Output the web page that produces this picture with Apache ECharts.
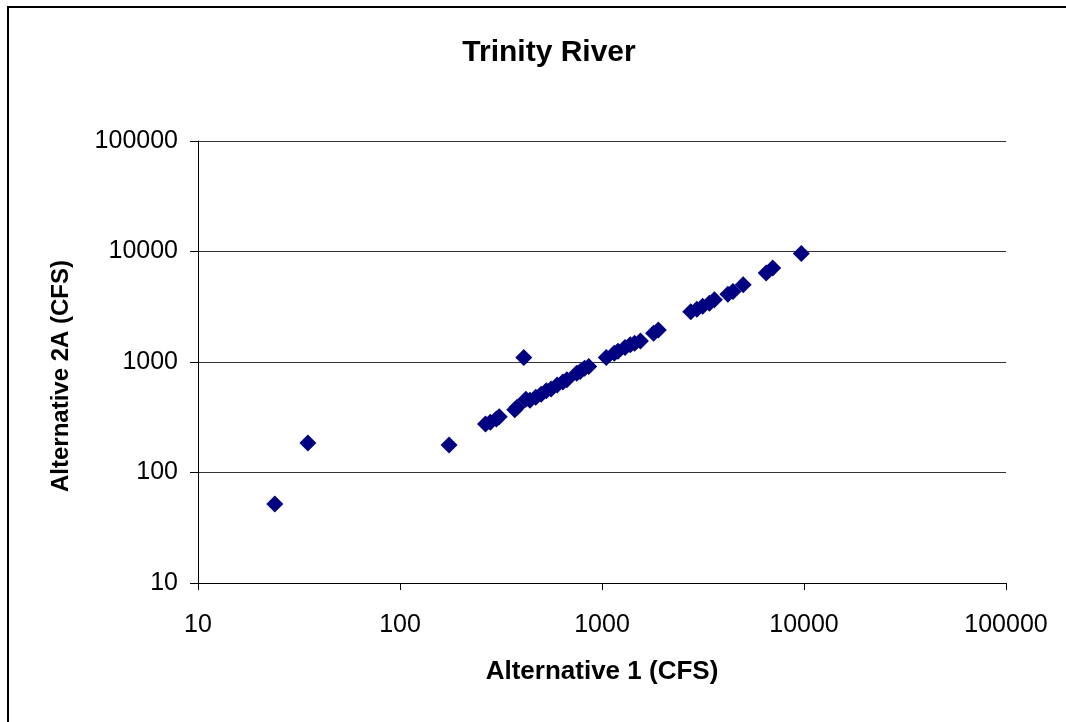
<!DOCTYPE html>
<html>
<head>
<meta charset="utf-8">
<script src="https://cdn.jsdelivr.net/npm/echarts@6/dist/echarts.min.js"></script>
<style>
html,body{margin:0;padding:0;background:#fff;}
#chart{width:1066px;height:722px;}
</style>
</head>
<body>
<div id="chart"></div>
<script>
const chartTitle = "Trinity River";
const xAxisName = "Alternative 1 (CFS)";
const yAxisName = "Alternative 2A (CFS)";
// Alternative 1 (CFS)
const alt1 = [24, 35, 175, 410,
  265, 280, 300, 310,
  370, 380, 420, 440, 470, 500, 530, 560, 600, 640, 670,
  750, 780, 820, 860,
  1050, 1150, 1200, 1300, 1380, 1450, 1550,
  1800, 1900,
  2750, 2950, 3150, 3400, 3600, 4200, 4450, 5000, 6500, 7000, 9700];
// Alternative 2A (CFS)
const alt2A = [52, 185, 177, 1100,
  275, 285, 305, 320,
  370, 390, 460, 450, 480, 510, 550, 570, 620, 660, 690,
  790, 820, 880, 910,
  1100, 1200, 1250, 1350, 1430, 1480, 1550,
  1820, 1950,
  2850, 3000, 3200, 3400, 3650, 4100, 4350, 5000, 6400, 7100, 9600];

const points = alt1.map((x, i) => [x, alt2A[i]]);
const FONT = "Liberation Sans, Arial, sans-serif";
const plainNum = v => String(Math.round(v));

const chart = echarts.init(document.getElementById('chart'));
chart.setOption({
  backgroundColor: '#fff',
  animation: false,
  title: {
    text: chartTitle,
    left: 544,
    top: 33,
    textAlign: 'center',
    textStyle: {fontFamily: FONT, fontSize: 30, fontWeight: 'bold', color: '#000'}
  },
  graphic: [{
    type: 'rect',
    shape: {x: 8, y: 7, width: 1200, height: 900},
    style: {fill: 'none', stroke: '#000', lineWidth: 2},
    silent: true
  }, {
    type: 'text',
    x: 61, y: 376,
    rotation: Math.PI / 2,
    style: {
      text: yAxisName, fontFamily: FONT, fontSize: 24, fontWeight: 'bold',
      fill: '#000', align: 'center', verticalAlign: 'middle'
    },
    silent: true
  }],
  grid: {left: 198, top: 141, right: 60, bottom: 139, containLabel: false},
  xAxis: {
    type: 'log', logBase: 10, min: 10, max: 100000,
    name: xAxisName, nameLocation: 'middle', nameGap: 76,
    nameTextStyle: {fontFamily: FONT, fontSize: 26, fontWeight: 'bold', color: '#000'},
    axisLine: {show: true, onZero: false, lineStyle: {color: '#000', width: 1}},
    axisTick: {show: true, length: 7, lineStyle: {color: '#000'}},
    minorTick: {show: false},
    splitLine: {show: false},
    axisLabel: {fontFamily: FONT, fontSize: 25, color: '#000', margin: 30, formatter: plainNum}
  },
  yAxis: {
    type: 'log', logBase: 10, min: 10, max: 100000,
    axisLine: {show: true, onZero: false, lineStyle: {color: '#000', width: 1}},
    axisTick: {show: true, length: 8, lineStyle: {color: '#000'}},
    minorTick: {show: false},
    splitLine: {show: true, lineStyle: {color: '#333', width: 1}},
    axisLabel: {fontFamily: FONT, fontSize: 25, color: '#000', margin: 20, formatter: plainNum}
  },
  series: [{
    type: 'scatter',
    data: points,
    symbol: 'diamond',
    symbolSize: [17, 17],
    itemStyle: {color: '#000080', opacity: 1}
  }]
});
</script>
</body>
</html>
